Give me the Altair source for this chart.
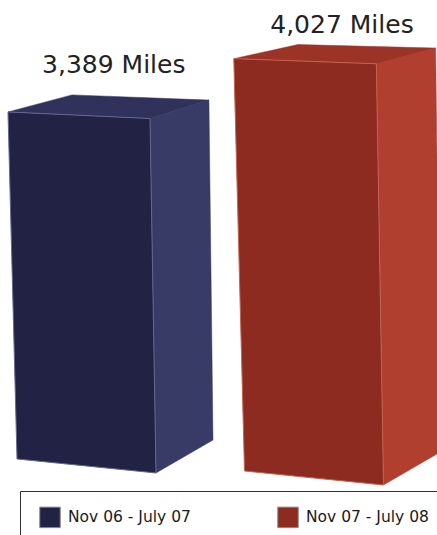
import altair as alt
import pandas as pd

# ---- data ----
periods = ["Nov 06 - July 07", "Nov 07 - July 08"]
miles = [3389, 4027]
value_labels = ["3,389 Miles", "4,027 Miles"]

# ---- styles ----
front_colors = ["#212244", "#8d2b20"]
top_colors = ["#30325b", "#9b3427"]
side_colors = ["#393b67", "#b03f2f"]
edge_colors = ["#65688f", "#c2644f"]

W, H = 437, 535

# ---- simple perspective model of a 3D box (layout constants) ----
corner_base = {"FL": (17, 459), "FR": (156, 473), "BR": (213, 440), "BL": (80, 426)}
corner_rise = {"FL": (-0.00266, -0.1024), "FR": (-0.00177, -0.1046),
               "BR": (-0.0012, -0.1003), "BL": (-0.00236, -0.0977)}
box_step = (227.5, 12)
label_lift = [24, 13]
label_shift = [4, 6]


def project(i, corner, height):
    bx, by = corner_base[corner]
    rx, ry = corner_rise[corner]
    return bx + i * box_step[0] + rx * height, by + i * box_step[1] + ry * height


faces = {
    "side": [("FR", 0), ("BR", 0), ("BR", 1), ("FR", 1)],
    "top": [("FL", 1), ("FR", 1), ("BR", 1), ("BL", 1)],
    "front": [("FL", 0), ("FR", 0), ("FR", 1), ("FL", 1)],
}

xs = alt.Scale(domain=[0, W], nice=False, zero=False)
ys = alt.Scale(domain=[0, H], nice=False, zero=False, reverse=True)

layers = []
for i, v in enumerate(miles):
    for face, verts in faces.items():
        rows = []
        for k, (c, up) in enumerate(verts + [verts[0]]):
            px, py = project(i, c, v * up)
            rows.append({"px": px, "py": py, "k": k})
        df = pd.DataFrame(rows)
        if face == "front":
            fill, stroke, sw = front_colors[i], edge_colors[i], 1.0
        elif face == "top":
            fill, stroke, sw = top_colors[i], top_colors[i], 0.5
        else:
            fill, stroke, sw = side_colors[i], side_colors[i], 0.5
        layers.append(
            alt.Chart(df).mark_line(fill=fill, stroke=stroke, strokeWidth=sw,
                                    interpolate="linear", strokeJoin="miter")
            .encode(x=alt.X("px:Q", scale=xs, axis=None),
                    y=alt.Y("py:Q", scale=ys, axis=None),
                    order="k:Q")
        )

# value labels above each box
lab_rows = []
for i, v in enumerate(miles):
    pts = [project(i, c, v) for c in ["FL", "FR", "BR", "BL"]]
    cx = sum(p[0] for p in pts) / 4 + label_shift[i]
    by = (project(i, "BL", v)[1] + project(i, "BR", v)[1]) / 2 - label_lift[i]
    lab_rows.append({"px": cx, "py": by, "label": value_labels[i]})
labels = alt.Chart(pd.DataFrame(lab_rows)).mark_text(
    font="DejaVu Sans", fontSize=25, color="#222222", baseline="alphabetic", align="center"
).encode(x=alt.X("px:Q", scale=xs, axis=None), y=alt.Y("py:Q", scale=ys, axis=None), text="label:N")
layers.append(labels)

# legend carrier (invisible marks)
leg_df = pd.DataFrame({"period": periods, "px": [0, 0], "py": [0, 0]})
legend_layer = alt.Chart(leg_df).mark_square(size=0, opacity=0).encode(
    x=alt.X("px:Q", scale=xs, axis=None),
    y=alt.Y("py:Q", scale=ys, axis=None),
    fill=alt.Fill("period:N", scale=alt.Scale(domain=periods, range=front_colors),
                  legend=alt.Legend(orient="none", legendX=20, legendY=491,
                                    direction="horizontal", title=None,
                                    symbolType="square", symbolSize=420,
                                    symbolStrokeColor="#8a8a8a", symbolStrokeWidth=1,
                                    symbolOpacity=1, symbolOffset=4,
                                    labelFont="DejaVu Sans",
                                    labelFontSize=15.5, labelColor="#1a1a1a",
                                    labelOffset=7, columnPadding=82, padding=15,
                                    strokeColor="#333333", labelLimit=300)),
)
layers.append(legend_layer)

chart = alt.layer(*layers).properties(
    width=W, height=H, padding=0, autosize="none", background="white"
).configure_view(stroke=None)

chart.save("out.html", embed_options={"renderer": "svg", "actions": False})
